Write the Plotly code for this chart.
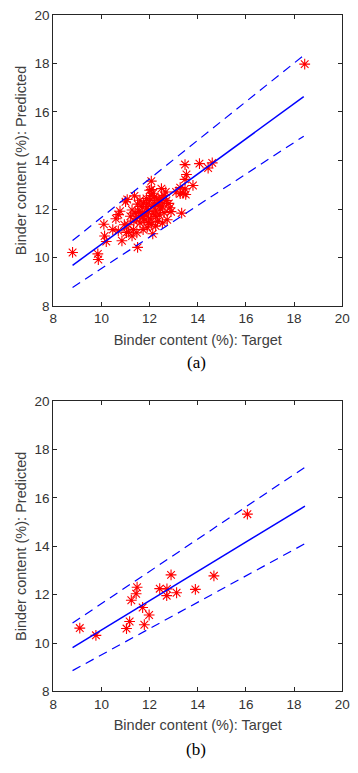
import plotly.graph_objects as go

# ---------------- data: panel (a) ----------------
x_a = [8.80, 9.85, 9.87, 10.10, 10.13, 10.20, 10.47, 10.70, 10.77, 10.70, 10.85, 11.04,
       11.07, 11.13, 11.33, 11.27, 11.47, 11.50, 11.40, 11.27, 11.37, 11.60, 11.60, 11.73,
       11.73, 11.87, 11.87, 12.00, 12.07, 12.07, 12.13, 12.07, 12.20, 12.27, 12.33, 12.40,
       12.49, 12.53, 12.53, 12.60, 12.67, 12.73, 12.80, 12.89, 13.27, 13.27, 13.33, 13.47,
       13.47, 13.53, 13.47, 13.80, 14.07, 14.43, 14.60, 18.44,
       11.45, 11.55, 11.65, 11.70, 11.80, 11.85, 11.90, 11.95, 12.00, 12.05, 12.10, 12.15,
       12.20, 12.25, 12.30, 12.35, 12.45, 12.50, 12.55, 12.60, 11.50, 11.60, 11.75, 11.95,
       12.05, 12.15, 12.40, 11.35, 11.20, 12.70, 11.90, 12.25, 10.95, 11.00, 12.85, 13.10,
       13.40, 13.50, 10.60, 11.10]
y_a = [10.21, 10.15, 9.92, 11.37, 10.89, 10.66, 11.15, 11.77, 11.91, 11.10, 10.69, 11.03,
       12.39, 11.05, 11.15, 10.89, 11.02, 10.42, 11.83, 11.96, 12.54, 11.42, 12.36, 11.69,
       11.15, 12.03, 12.43, 12.77, 13.15, 12.80, 10.98, 11.36, 12.50, 11.69, 11.49, 12.36,
       12.84, 11.42, 12.09, 12.56, 12.70, 11.56, 12.23, 11.89, 12.63, 12.88, 11.83, 12.83,
       13.22, 13.42, 13.83, 12.97, 13.87, 13.69, 13.90, 17.97,
       11.60, 11.90, 12.10, 11.85, 11.55, 11.75, 12.20, 11.90, 12.35, 11.60, 12.10, 11.80,
       12.25, 11.95, 12.40, 12.15, 12.00, 12.45, 12.25, 11.85, 12.20, 11.70, 12.25, 11.45,
       12.55, 12.65, 11.75, 11.50, 11.70, 12.35, 11.25, 11.30, 11.35, 12.30, 12.05, 12.70,
       12.65, 12.60, 11.60, 11.35]
fit_x_a = [8.80, 18.40]
fit_a = [9.68, 16.63]
upper_a = [10.70, 18.33]
lower_a = [8.77, 15.00]

# ---------------- data: panel (b) ----------------
x_b = [9.10, 9.77, 11.04, 11.17, 11.78, 11.98, 11.71, 11.24, 11.44, 11.48, 12.42, 12.72,
       12.71, 13.12, 13.90, 12.89, 14.67, 16.06]
y_b = [10.62, 10.32, 10.60, 10.89, 10.76, 11.16, 11.47, 11.77, 12.04, 12.31, 12.25, 12.24,
       11.96, 12.08, 12.22, 12.82, 12.78, 15.33]
fit_x_b = [8.80, 18.45]
fit_b = [9.81, 15.66]
upper_b = [10.83, 17.27]
lower_b = [8.86, 14.11]

tick_vals = [8, 10, 12, 14, 16, 18, 20]
tick_text = ["8", "10", "12", "14", "16", "18", "20"]
x_title = "Binder content (%): Target"
y_title = "Binder content (%): Predicted"
panel_labels = ["(a)", "(b)"]

W, H = 358, 773
fig = go.Figure()

panels = [
    (x_a, y_a, fit_x_a, fit_a, upper_a, lower_a, "x", "y"),
    (x_b, y_b, fit_x_b, fit_b, upper_b, lower_b, "x2", "y2"),
]
for xs, ys, fx, fc, fu, fl, xa, ya in panels:
    fig.add_trace(go.Scatter(x=xs, y=ys, mode="markers", xaxis=xa, yaxis=ya,
                             marker=dict(symbol="asterisk-open", size=9, color="red",
                                         line=dict(color="red", width=1.1)),
                             showlegend=False))
    fig.add_trace(go.Scatter(x=fx, y=fc, mode="lines", xaxis=xa, yaxis=ya,
                             line=dict(color="blue", width=1.5), showlegend=False))
    for band in (fu, fl):
        fig.add_trace(go.Scatter(x=fx, y=band, mode="lines", xaxis=xa, yaxis=ya,
                                 line=dict(color="blue", width=1.2, dash="9px,6px"),
                                 showlegend=False))

x0, x1 = 51 / W, 350 / W
dom_a = [(H - 305) / H, (H - 8) / H]
dom_b = [(H - 698) / H, (H - 402) / H]

axis_common = dict(range=[8, 20], tickvals=tick_vals, ticktext=tick_text,
                   showgrid=False, zeroline=False, showline=True, linecolor="#262626",
                   linewidth=1, mirror="allticks", ticks="inside", ticklen=4,
                   tickcolor="#262626",
                   tickfont=dict(family="Liberation Sans, Arial", size=13.5, color="#333333"))
title_font = dict(family="Liberation Sans, Arial", size=14.5, color="#404040")

fig.update_layout(
    width=W, height=H, margin=dict(l=0, r=0, t=0, b=0),
    paper_bgcolor="white", plot_bgcolor="white",
    xaxis=dict(domain=[x0, x1], anchor="y", **axis_common,
               title=dict(text=x_title, font=title_font, standoff=9)),
    yaxis=dict(domain=dom_a, anchor="x", **axis_common,
               title=dict(text=y_title, font=title_font, standoff=4)),
    xaxis2=dict(domain=[x0, x1], anchor="y2", **axis_common,
                title=dict(text=x_title, font=title_font, standoff=9)),
    yaxis2=dict(domain=dom_b, anchor="x2", **axis_common,
                title=dict(text=y_title, font=title_font, standoff=4)),
)

for lab, ypx in zip(panel_labels, [363, 757]):
    fig.add_annotation(text=lab, xref="paper", yref="paper", x=199 / W, y=(H - ypx) / H,
                       showarrow=False, xanchor="center", yanchor="middle",
                       font=dict(family="Liberation Serif, Times New Roman", size=17, color="black"))

fig.write_html("out.html")
